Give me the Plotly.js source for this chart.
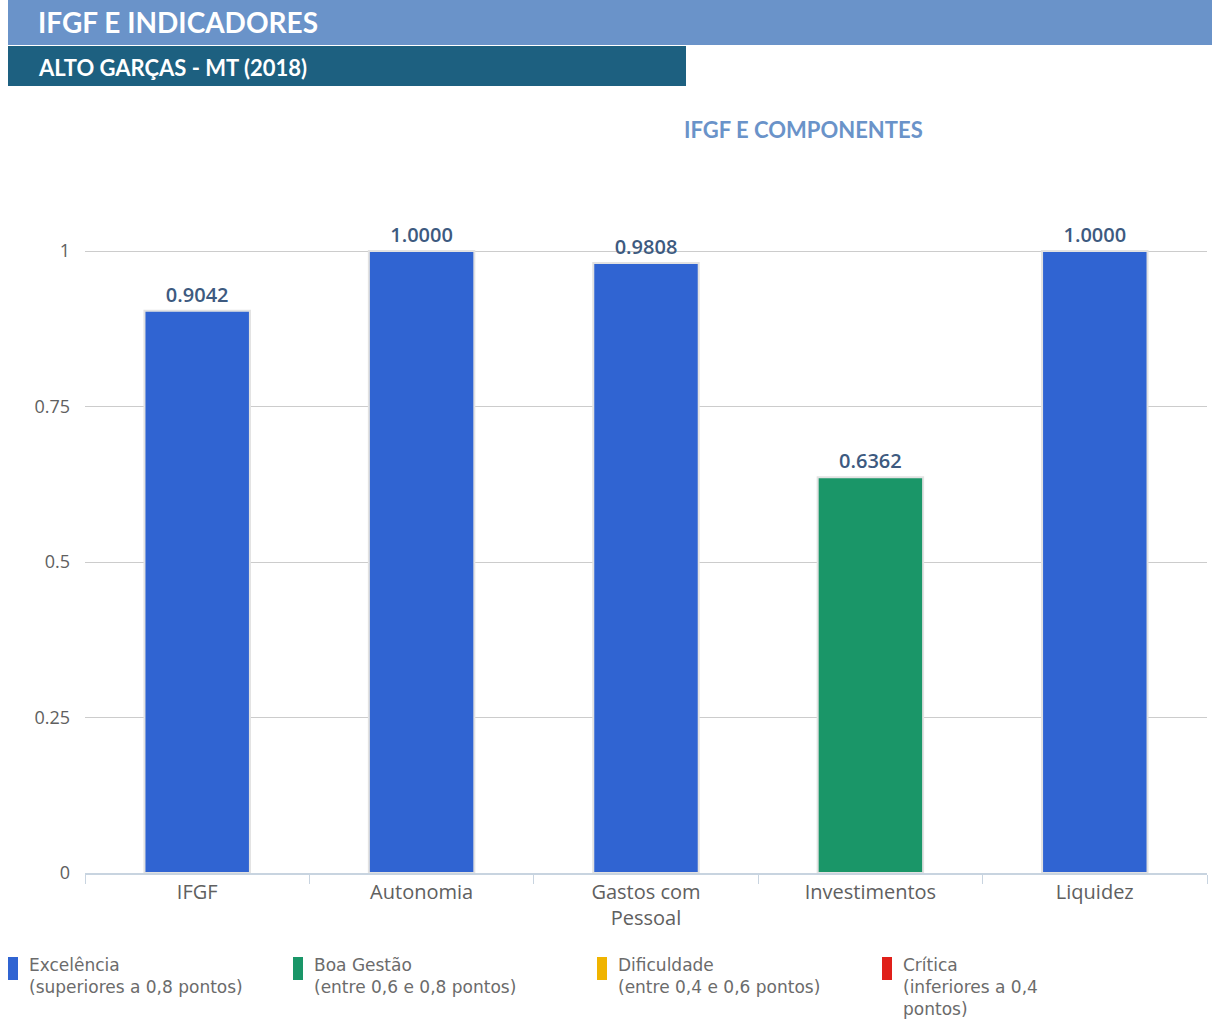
<!DOCTYPE html>
<html><head><meta charset="utf-8">
<script src="https://cdn.plot.ly/plotly-3.0.1.min.js"></script>
<style>html,body{margin:0;padding:0;background:#fff;}#chart{width:1212px;height:1020px;}</style>
</head><body><div id="chart"></div>
<script>
const categories = ["IFGF", "Autonomia", "Gastos com<br>Pessoal", "Investimentos", "Liquidez"];
const values = [0.9042, 1.0000, 0.9808, 0.6362, 1.0000];
const barColors = ["#3064d2", "#3064d2", "#3064d2", "#1a9668", "#3064d2"];
const legendNames = [
  ["Excelência", "(superiores a 0,8 pontos)"],
  ["Boa Gestão", "(entre 0,6 e 0,8 pontos)"],
  ["Dificuldade", "(entre 0,4 e 0,6 pontos)"],
  ["Crítica", "(inferiores a 0,4", "pontos)"]
];
const legendColors = ["#3064d2", "#1a9668", "#f0b400", "#e0201a"];
const headerTitle = "IFGF E INDICADORES";
const subTitle = "ALTO GARÇAS - MT (2018)";
const chartTitle = "IFGF E COMPONENTES";

const W = 1212, H = 1020;
const mL = 85, mR = 5, mT = 220, mB = 147;
const pw = W - mL - mR, ph = H - mT - mB;
const px = x => (x - mL) / pw;
const py = y => (H - mB - y) / ph;

const font = "Lato, 'Noto Sans', sans-serif";
const font2 = "'Open Sans', 'Noto Sans', sans-serif";
const font3 = "'DejaVu Sans', 'Open Sans', sans-serif";

const shapes = [
  {type:'rect', xref:'paper', yref:'paper', x0:px(8), x1:px(1212), y0:py(45), y1:py(0), fillcolor:'#6a93c9', line:{width:0}, layer:'below'},
  {type:'rect', xref:'paper', yref:'paper', x0:px(8), x1:px(686), y0:py(86), y1:py(46), fillcolor:'#1d6080', line:{width:0}, layer:'below'}
];
const annotations = [
  {xref:'paper', yref:'paper', x:px(36), y:py(22), xanchor:'left', yanchor:'middle', text:'<b>'+headerTitle+'</b>', showarrow:false, font:{family:font, size:28, color:'#ffffff'}},
  {xref:'paper', yref:'paper', x:px(36), y:py(67), xanchor:'left', yanchor:'middle', text:'<b>'+subTitle+'</b>', showarrow:false, font:{family:font, size:22, color:'#ffffff'}},
  {xref:'paper', yref:'paper', x:px(803), y:py(129), xanchor:'center', yanchor:'middle', text:'<b>'+chartTitle+'</b>', showarrow:false, font:{family:font, size:22, color:'#6a93c9'}}
];
const legX = [8, 293, 597, 882];
legendNames.forEach((lines, i) => {
  shapes.push({type:'rect', xref:'paper', yref:'paper', x0:px(legX[i]), x1:px(legX[i]+10), y0:py(980), y1:py(957), fillcolor:legendColors[i], line:{width:0}});
  annotations.push({xref:'paper', yref:'paper', x:px(legX[i]+20), y:py(954), xanchor:'left', yanchor:'top', align:'left', text:lines.join('<br>'), showarrow:false, borderpad:0, font:{family:font3, size:17, color:'#6b6b6b'}});
});

const trace = {
  type:'bar', x:categories, y:values,
  marker:{color:barColors, line:{color:'#e2e2e2', width:2}},
  width:0.47,
  text:values.map(v => v.toFixed(4)), textposition:'outside', cliponaxis:false,
  textfont:{family:font2, size:20, color:'#3d5a80', weight:600},
  hoverinfo:'x+y'
};

const layout = {
  width:W, height:H,
  margin:{l:mL, r:mR, t:mT, b:mB, pad:0},
  paper_bgcolor:'#ffffff', plot_bgcolor:'#ffffff',
  showlegend:false,
  font:{family:font2, color:'#555555'},
  xaxis:{type:'category', tickson:'boundaries', ticks:'outside', ticklen:9, tickcolor:'#c8d4e0', showline:true, linecolor:'#c8d4e0', linewidth:2, showgrid:false, tickfont:{family:font2, size:20, color:'#606060'}, fixedrange:true},
  yaxis:{range:[0,1.05], tickvals:[0,0.25,0.5,0.75,1], ticktext:['0','0.25','0.5','0.75','1'], showgrid:true, gridcolor:'#cccccc', gridwidth:1, zeroline:false, showline:false, ticks:'', tickfont:{family:font2, size:18, color:'#606060'}, ticklabelstandoff:14, fixedrange:true},
  shapes:shapes, annotations:annotations,
  bargap:0.53
};
Plotly.newPlot('chart', [trace], layout, {displayModeBar:false, staticPlot:true});
</script></body></html>
